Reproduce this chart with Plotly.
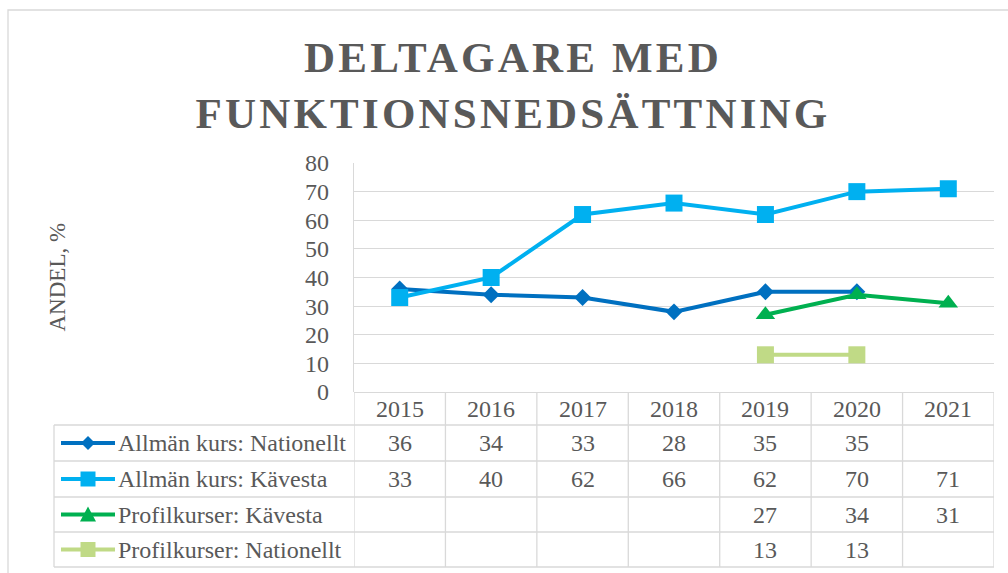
import plotly.graph_objects as go

# ---------------- data ----------------
years = [2015, 2016, 2017, 2018, 2019, 2020, 2021]
series_names = [
    "Allmän kurs: Nationellt",
    "Allmän kurs: Kävesta",
    "Profilkurser: Kävesta",
    "Profilkurser: Nationellt",
]
allman_nationellt = [36, 34, 33, 28, 35, 35, None]
allman_kavesta = [33, 40, 62, 66, 62, 70, 71]
profil_kavesta = [None, None, None, None, 27, 34, 31]
profil_nationellt = [None, None, None, None, 13, 13, None]
series_values = [allman_nationellt, allman_kavesta, profil_kavesta, profil_nationellt]
y_ticks = [0, 10, 20, 30, 40, 50, 60, 70, 80]

title_lines = ["DELTAGARE MED", "FUNKTIONSNEDSÄTTNING"]
y_title = "ANDEL, %"

# ---------------- style ----------------
colors = ["#0070C0", "#00B0F0", "#00B050", "#C0DA86"]
symbols = ["diamond", "square", "triangle-up", "square"]
marker_sizes = [13, 17, 17, 17]
TXT = "#595959"
GRID = "#D9D9D9"
FONT = "Liberation Serif, Times New Roman, serif"

FIG_W, FIG_H = 1008, 573
L, R, T, B = 354, 994, 163, 392          # plot area in pixels
PW, PH = R - L, B - T
TABLE_LEFT = 54
ROW_LINES = [425, 461, 497, 532, 567]      # horizontal table lines (px)


def px_x(p):
    return (p - L) / PW


def px_y(p):
    return (B - p) / PH


fig = go.Figure()

for name, vals, col, sym, ms in zip(series_names, series_values, colors, symbols, marker_sizes):
    fig.add_trace(go.Scatter(
        x=years, y=vals, name=name, mode="lines+markers",
        line=dict(color=col, width=4),
        marker=dict(symbol=sym, size=ms, color=col),
        connectgaps=False, showlegend=False,
    ))

shapes = []
annotations = []
line_style = dict(color=GRID, width=1.3)

# outer chart border (top + left visible)
shapes.append(dict(type="rect", xref="paper", yref="paper",
                   x0=px_x(8), x1=px_x(1020), y0=px_y(10), y1=px_y(590),
                   line=dict(color=GRID, width=1.3), layer="below"))

# table horizontal lines
for yl in ROW_LINES:
    shapes.append(dict(type="line", xref="paper", yref="paper",
                       x0=px_x(TABLE_LEFT), x1=px_x(R), y0=px_y(yl), y1=px_y(yl),
                       line=line_style))
# table left border
shapes.append(dict(type="line", xref="paper", yref="paper",
                   x0=px_x(TABLE_LEFT), x1=px_x(TABLE_LEFT),
                   y0=px_y(ROW_LINES[0]), y1=px_y(ROW_LINES[-1]), line=line_style))
# table vertical lines at category boundaries
for k in range(len(years) + 1):
    xb = years[0] - 0.5 + k
    shapes.append(dict(type="line", xref="x", yref="paper",
                       x0=xb, x1=xb, y0=0, y1=px_y(ROW_LINES[-1]), line=line_style))

TABLE_FONT = dict(family=FONT, size=24, color=TXT)

# header row: years
for yr in years:
    annotations.append(dict(x=yr, xref="x", y=px_y((B + ROW_LINES[0]) / 2), yref="paper",
                            text=str(yr), showarrow=False, font=TABLE_FONT,
                            xanchor="center", yanchor="middle"))

# data rows
for r, (name, vals, col, sym) in enumerate(zip(series_names, series_values, colors, symbols)):
    yc = (ROW_LINES[r] + ROW_LINES[r + 1]) / 2
    for yr, v in zip(years, vals):
        if v is None:
            continue
        annotations.append(dict(x=yr, xref="x", y=px_y(yc), yref="paper",
                                text=str(v), showarrow=False, font=TABLE_FONT,
                                xanchor="center", yanchor="middle"))
    # legend label
    annotations.append(dict(x=px_x(116), xref="paper", y=px_y(yc), yref="paper",
                            text=name, showarrow=False, font=TABLE_FONT,
                            xanchor="left", yanchor="middle"))
    # legend key line
    shapes.append(dict(type="line", xref="paper", yref="paper",
                       x0=px_x(61), x1=px_x(115), y0=px_y(yc), y1=px_y(yc),
                       line=dict(color=col, width=4)))
    # legend key marker
    cx = 88
    if sym == "diamond":
        d = 7
        path = (f"M {px_x(cx)} {px_y(yc - d)} L {px_x(cx + d)} {px_y(yc)} "
                f"L {px_x(cx)} {px_y(yc + d)} L {px_x(cx - d)} {px_y(yc)} Z")
    elif sym == "square":
        d = 7.5
        path = (f"M {px_x(cx - d)} {px_y(yc - d)} L {px_x(cx + d)} {px_y(yc - d)} "
                f"L {px_x(cx + d)} {px_y(yc + d)} L {px_x(cx - d)} {px_y(yc + d)} Z")
    else:
        d = 8
        path = (f"M {px_x(cx)} {px_y(yc - d)} L {px_x(cx + d)} {px_y(yc + d - 1)} "
                f"L {px_x(cx - d)} {px_y(yc + d - 1)} Z")
    shapes.append(dict(type="path", xref="paper", yref="paper", path=path,
                       fillcolor=col, line=dict(color=col, width=0)))

# y-axis title
annotations.append(dict(x=px_x(57), xref="paper", y=px_y((T + B) / 2), yref="paper",
                        text=y_title, textangle=-90, showarrow=False,
                        font=dict(family=FONT, size=23, color=TXT),
                        xanchor="center", yanchor="middle"))

fig.update_layout(
    width=FIG_W, height=FIG_H,
    margin=dict(l=L, r=FIG_W - R, t=T, b=FIG_H - B, pad=0),
    paper_bgcolor="white", plot_bgcolor="white",
    title=dict(
        text="<br>".join(f'<span style="letter-spacing:3.2px">{t}</span>' for t in title_lines),
        x=513 / FIG_W, xref="container", xanchor="center",
        y=1 - 72 / FIG_H, yref="container", yanchor="top",
        font=dict(family=FONT, size=43, color=TXT, weight="bold"),
    ),
    xaxis=dict(range=[years[0] - 0.5, years[-1] + 0.5], showticklabels=False,
               showgrid=False, zeroline=False, showline=False, fixedrange=True),
    yaxis=dict(range=[0, 80], tickvals=y_ticks, showgrid=True, gridcolor=GRID, gridwidth=1.3,
               zeroline=True, zerolinecolor=GRID, zerolinewidth=1.3,
               showline=True, linecolor=GRID, linewidth=1.3,
               ticks="", ticklabelstandoff=19,
               tickfont=dict(family=FONT, size=24, color=TXT)),
    shapes=shapes,
    annotations=annotations,
)

fig.write_html("out.html", config={"displayModeBar": False},
               post_script="document.body.style.margin='0';")
